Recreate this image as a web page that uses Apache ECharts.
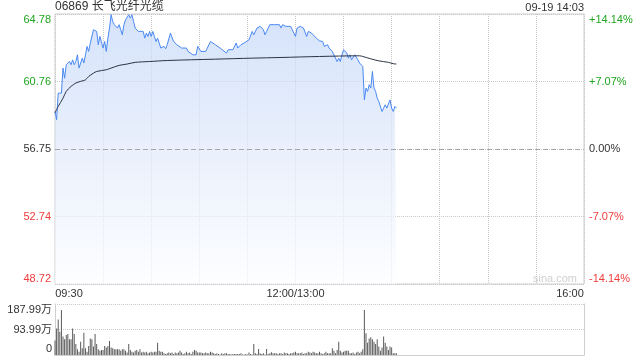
<!DOCTYPE html>
<html><head><meta charset="utf-8">
<script src="https://cdn.jsdelivr.net/npm/echarts@6/dist/echarts.min.js"></script>
<style>html,body{margin:0;padding:0;background:#fff}#c{width:640px;height:360px}</style>
</head><body><div id="c"></div>
<script>
const stockTitle = '06869 长飞光纤光缆';
const stampText = '09-19 14:03';
const prevClose = 56.75;
const priceTicks = ['48.72', '52.74', '56.75', '60.76', '64.78'];
const pctTicks = ['-14.14%', '-7.07%', '0.00%', '+7.07%', '+14.14%'];
const timeTicks = { 0: '09:30', 150: '12:00/13:00', 330: '16:00' };
const volTicks = ['0', '93.99万', '187.99万'];

// minutes since 09:30 (trading minutes, lunch break removed)
const priceMin = [0,1,2,4,5,6,7,9,10,11,12,13,14,15,16,17,18,19,20,21,22,23,24,25,26,27,28,30,31,32,33,34,35,36,37,39,40,41,42,43,44,46,47,48,49,50,52,53,55,56,57,58,59,60,61,62,63,64,66,68,69,70,
  71,72,74,76,77,79,80,82,83,84,86,87,88,89,91,92,94,95,97,98,100,101,103,104,107,108,109,111,113,114,116,118,119,121,122,123,124,126,128,130,131,132,134,135,137,138,140,141,
  142,144,147,148,150,151,153,155,157,158,160,161,163,164,165,167,168,170,171,173,174,176,177,178,179,180,182,183,184,185,187,189,190,192,193,194,195,196,197,198,199,200,201,202,204,205,206,207,209,210,211,212,213];
const price = [58.98,58.49,60.07,60.07,61.56,60.96,61.76,61.95,61.76,62.05,61.76,61.95,62.35,61.56,61.86,62.15,61.86,62.35,62.85,62.55,63.04,63.14,63.84,63.94,63.74,62.95,63.44,62.75,63.14,62.55,63.34,63.94,64.73,64.33,64.14,63.94,64.14,63.84,63.54,64.14,64.43,64.73,64.53,64.73,64.33,63.94,63.74,63.64,63.74,63.34,63.64,63.44,63.74,63.44,63.74,63.44,63.14,63.34,62.75,62.85,62.71,62.95,
  63.05,63.64,63.14,62.95,62.85,62.75,62.65,62.75,62.55,62.65,62.35,62.45,62.35,62.85,62.55,62.45,62.55,62.75,63.14,63.05,62.95,62.85,62.75,62.85,62.45,62.65,62.55,62.65,63.05,62.75,62.95,63.05,63.11,63.24,63.14,63.74,63.54,63.94,64.04,63.84,63.54,63.74,64.14,64.23,64.14,64.04,64.14,63.94,
  64.14,64.04,64.04,63.94,63.44,63.94,64.04,63.94,63.44,63.74,63.64,63.54,63.34,63.24,63.18,63.14,62.85,62.95,62.75,62.55,62.45,61.95,62.15,61.95,62.35,62.65,62.45,62.15,62.35,62.05,62.35,62.05,61.86,61.66,59.67,60.37,60.17,60.57,60.37,61.36,60.37,60.17,59.77,59.57,58.98,59.18,59.38,59.18,59.67,59.18,58.98,59.28,59.18];
const avgMin = [0,2,5,7,10,13,16,19,21,24,26,32,35,40,45,50,59,70,100,123,141,165,190,192,197,202,208,211,213];
const avg = [58.9,59.28,59.77,60.17,60.47,60.67,60.77,60.86,61.06,61.26,61.36,61.46,61.56,61.72,61.80,61.90,61.95,62.01,62.09,62.15,62.19,62.25,62.29,62.25,62.11,61.99,61.90,61.82,61.80];
// volume per minute (万), index = minute
const volume = [53,98,131,86,166,68,58,74,77,58,
  58,98,77,41,21,12,49,25,82,25,
  12,33,61,58,31,77,41,21,16,18,
  18,33,28,33,52,28,25,21,21,21,
  21,16,21,21,16,9,41,18,12,9,
  16,18,12,21,9,12,9,12,6,9,
  12,9,12,12,45,16,12,12,6,4,6,
  9,6,9,4,9,6,9,16,9,4,6,
  12,6,9,4,12,18,16,9,9,9,6,
  6,9,6,6,12,9,6,4,6,4,
  2,6,4,6,
  6,4,4,2,4,4,4,4,4,6,2,2,4,2,9,4,2,
  41,6,4,22,6,4,6,2,
  22,4,6,10,6,6,6,4,6,6,4,
  9,6,6,4,6,6,9,12,6,6,
  6,9,4,6,6,12,9,6,12,9,6,
  6,12,6,4,6,12,6,6,6,
  25,16,6,18,49,16,9,12,16,16,16,6,6,9,4,9,12,6,12,21,
  166,80,45,61,65,58,49,41,58,31,16,28,68,45,31,18,31,28,6,6,6];

const GREEN = '#1fa51f', RED = '#f03c3c', TXT = '#333';
const FONT = '"Liberation Sans", Arial, "Noto Sans CJK SC", sans-serif';
const toPct = p => (p / prevClose - 1) * 100;
const priceData = priceMin.map((m, i) => [m, toPct(price[i])]);
const avgData = avgMin.map((m, i) => [m, toPct(avg[i])]);
const volData = volume.map((v, i) => [i, v]);
const tickColor = i => i > 2 ? GREEN : (i < 2 ? RED : TXT);

function priceLabel(arr) {
  return function (v, i) {
    const t = arr[i];
    if (i === 4) return '{tg|' + t + '}';
    if (i === 0) return '{br|' + t + '}';
    return t;
  };
}
const priceRich = { tg: { color: GREEN, padding: [11, 0, 0, 0], fontSize: 11, fontFamily: FONT }, br: { color: RED, padding: [0, 0, 11, 0], fontSize: 11, fontFamily: FONT } };

const chart = echarts.init(document.getElementById('c'), null, { renderer: 'canvas' });
chart.setOption({
  animation: false,
  textStyle: { fontFamily: FONT },
  graphic: [
    { type: 'text', left: 55, top: 1, style: { text: stockTitle, font: '12px ' + FONT, fill: TXT } },
    { type: 'text', right: 56, top: 2, style: { text: stampText, font: '11px ' + FONT, fill: TXT } },
    { type: 'text', left: 533, top: 273, style: { text: 'sina.com', font: '11px ' + FONT, fill: '#d0d0d0' } }
  ],
  grid: [
    { left: 55, right: 56, top: 14, height: 270, show: true, borderColor: '#cfcfcf', borderWidth: 1 },
    { left: 55, right: 56, top: 304, height: 51 }
  ],
  xAxis: [
    { type: 'value', gridIndex: 0, min: 0, max: 330, interval: 30,
      axisLine: { show: false }, axisTick: { show: false },
      splitLine: { show: true, lineStyle: { type: 'dotted', color: '#c8c8c8' } },
      axisLabel: { margin: 4, fontSize: 11, color: TXT, showMinLabel: true, showMaxLabel: true,
        formatter: function (v) {
          const t = timeTicks[Math.round(v)];
          if (!t) return '';
          if (Math.round(v) === 0) return '{l|' + t + '}';
          if (Math.round(v) === 330) return '{r|' + t + '}';
          return t;
        },
        rich: { l: { padding: [0, 0, 0, 28], fontSize: 11, color: TXT }, r: { padding: [0, 28, 0, 0], fontSize: 11, color: TXT } } } },
    { type: 'value', gridIndex: 1, min: 0, max: 330, interval: 30,
      axisLine: { show: true, lineStyle: { color: '#cfcfcf' } }, axisTick: { show: false },
      splitLine: { show: false }, axisLabel: { show: false } }
  ],
  yAxis: [
    { type: 'value', gridIndex: 0, min: -14.14, max: 14.14, interval: 7.07,
      axisLine: { show: false }, axisTick: { show: false },
      splitLine: { show: true, lineStyle: { type: 'dotted', color: '#c8c8c8' } },
      axisLabel: { margin: 4, fontSize: 11, color: (v, i) => tickColor(i), formatter: priceLabel(priceTicks), rich: priceRich } },
    { type: 'value', gridIndex: 0, position: 'right', min: -14.14, max: 14.14, interval: 7.07,
      axisLine: { show: false }, axisTick: { show: false }, splitLine: { show: false },
      axisLabel: { margin: 5, fontSize: 11, color: (v, i) => tickColor(i), formatter: priceLabel(pctTicks), rich: priceRich } },
    { type: 'value', gridIndex: 1, min: 0, max: 187.99, interval: 93.995,
      axisLine: { show: true, lineStyle: { color: '#cfcfcf' } }, axisTick: { show: false },
      splitLine: { show: true, lineStyle: { type: 'dotted', color: '#c8c8c8', width: 1 } },
      axisLabel: { margin: 3, fontSize: 11, color: TXT,
        formatter: function (v, i) {
          const t = volTicks[i];
          if (i === 2) return '{t|' + t + '}';
          if (i === 0) return '{b|' + t + '}';
          return t;
        },
        rich: { t: { padding: [12, 0, 0, 0], fontSize: 11, color: TXT }, b: { padding: [0, 0, 12, 0], fontSize: 11, color: TXT } } } },
    { type: 'value', gridIndex: 1, position: 'right', min: 0, max: 187.99,
      axisLine: { show: true, lineStyle: { color: '#cfcfcf' } }, axisTick: { show: false },
      splitLine: { show: false }, axisLabel: { show: false } }
  ],
  series: [
    { type: 'line', xAxisIndex: 0, yAxisIndex: 0, data: priceData, symbol: 'none', z: 3,
      lineStyle: { color: '#4a88f2', width: 1 },
      areaStyle: { origin: 'start', color: new echarts.graphic.LinearGradient(0, 0, 0, 1, [
        { offset: 0, color: '#c2d6f8' }, { offset: 0.5, color: '#e0e9fa' }, { offset: 1, color: '#fcfdff' }]) },
      markLine: { silent: true, symbol: 'none', label: { show: false },
        lineStyle: { type: [5, 3], color: '#a8a8a8', width: 1 }, data: [{ yAxis: 0 }] } },
    { type: 'line', xAxisIndex: 0, yAxisIndex: 0, data: avgData, symbol: 'none', smooth: 0.3, z: 4,
      lineStyle: { color: '#2b3444', width: 1 } },
    { type: 'bar', xAxisIndex: 1, yAxisIndex: 2, data: volData, barWidth: 1,
      itemStyle: { color: '#5a5a5a' } }
  ]
});
</script></body></html>
